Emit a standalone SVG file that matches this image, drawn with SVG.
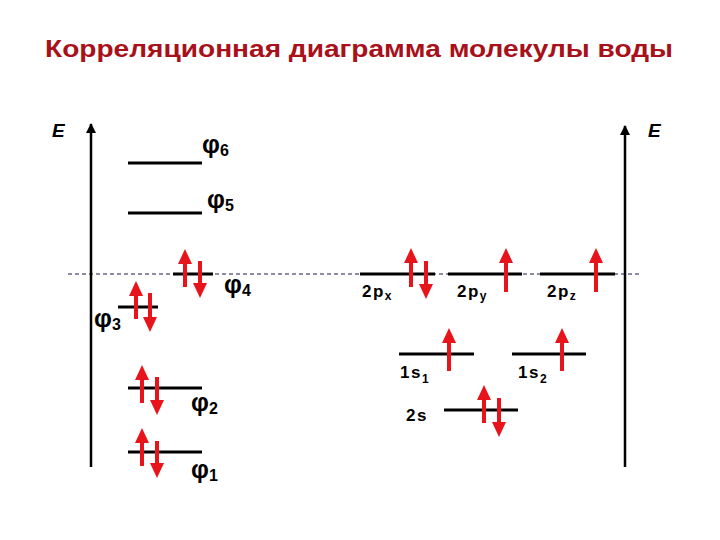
<svg xmlns="http://www.w3.org/2000/svg" width="720" height="540" viewBox="0 0 720 540">
<defs>
<style>
.t{font-family:"Liberation Sans",Arial,sans-serif;}
.title{font-size:24px;font-weight:bold;fill:#A8101A;}
.lvl{stroke:#000;stroke-width:3;fill:none;}
.ax{stroke:#000;stroke-width:2.5;fill:none;}
.dash{stroke:#1a1a50;stroke-width:1.2;stroke-dasharray:4 3;fill:none;}
.ar{fill:#E8141C;}
.phi{font-size:25px;font-weight:bold;fill:#000;}
.lab{font-size:17px;font-weight:bold;fill:#000;letter-spacing:1.5px;}
.sub{font-size:12px;font-weight:bold;}
.psub{font-size:16px;font-weight:bold;}
.E{font-size:19px;font-weight:bold;font-style:italic;fill:#000;}
</style>
<marker id="ah" viewBox="0 0 10 10" refX="9" refY="5" markerWidth="4" markerHeight="4" orient="auto" markerUnits="strokeWidth"><path d="M0,0 L10,5 L0,10 Z" fill="#000"/></marker>
</defs>
<rect width="720" height="540" fill="#fff"/>
<text class="t title" x="45" y="57" textLength="628" lengthAdjust="spacingAndGlyphs">Корреляционная диаграмма молекулы воды</text>

<g id="connectors">
<line class="dash" x1="68" y1="274" x2="642" y2="274"/>
<line class="ax" x1="91" y1="467" x2="91" y2="124" marker-end="url(#ah)"/>
<line class="ax" x1="625" y1="467" x2="625" y2="126" marker-end="url(#ah)"/>
</g>
<g id="axis-labels">
<text class="t E" x="52" y="137">E</text>
<text class="t E" x="648" y="137">E</text>
</g>

<g id="phi6">
<line class="lvl" x1="128" y1="163" x2="202" y2="163"/>
<text class="t phi" x="202" y="153">φ<tspan class="psub" dy="3">6</tspan></text>
</g>
<g id="phi5">
<line class="lvl" x1="128" y1="213" x2="202" y2="213"/>
<text class="t phi" x="207" y="208">φ<tspan class="psub" dy="3">5</tspan></text>
</g>
<g id="phi4">
<line class="lvl" x1="173" y1="274" x2="213" y2="274"/>
<path class="ar" d="M185,249 L192,264 L187,264 L187,287 L183,287 L183,264 L178,264 Z"/>
<path class="ar" d="M200,298 L207,283 L202,283 L202,261 L198,261 L198,283 L193,283 Z"/>
<text class="t phi" x="224" y="293">φ<tspan class="psub" dy="3">4</tspan></text>
</g>
<g id="phi3">
<line class="lvl" x1="118" y1="307" x2="158" y2="307"/>
<path class="ar" d="M136,281 L143,296 L138,296 L138,319 L134,319 L134,296 L129,296 Z"/>
<path class="ar" d="M150,332 L157,317 L152,317 L152,293 L148,293 L148,317 L143,317 Z"/>
<text class="t phi" x="94" y="327">φ<tspan class="psub" dy="3">3</tspan></text>
</g>
<g id="phi2">
<line class="lvl" x1="128" y1="388" x2="202" y2="388"/>
<path class="ar" d="M142,365 L149,380 L144,380 L144,403 L140,403 L140,380 L135,380 Z"/>
<path class="ar" d="M157,415 L164,400 L159,400 L159,377 L155,377 L155,400 L150,400 Z"/>
<text class="t phi" x="191" y="411">φ<tspan class="psub" dy="3">2</tspan></text>
</g>
<g id="phi1">
<line class="lvl" x1="128" y1="452" x2="202" y2="452"/>
<path class="ar" d="M142,428 L149,443 L144,443 L144,466 L140,466 L140,443 L135,443 Z"/>
<path class="ar" d="M157,478 L164,463 L159,463 L159,441 L155,441 L155,463 L150,463 Z"/>
<text class="t phi" x="191" y="478">φ<tspan class="psub" dy="3">1</tspan></text>
</g>

<g id="2px">
<line class="lvl" x1="360" y1="274" x2="435" y2="274"/>
<path class="ar" d="M411,248 L418,263 L413,263 L413,287 L409,287 L409,263 L404,263 Z"/>
<path class="ar" d="M426,299 L433,284 L428,284 L428,261 L424,261 L424,284 L419,284 Z"/>
<text class="t lab" x="362" y="297">2p<tspan class="sub" dy="3">x</tspan></text>
</g>
<g id="2py">
<line class="lvl" x1="448" y1="274" x2="522" y2="274"/>
<path class="ar" d="M506,248 L513,263 L508,263 L508,292 L504,292 L504,263 L499,263 Z"/>
<text class="t lab" x="457" y="297">2p<tspan class="sub" dy="3">y</tspan></text>
</g>
<g id="2pz">
<line class="lvl" x1="540" y1="274" x2="615" y2="274"/>
<path class="ar" d="M596,248 L603,263 L598,263 L598,292 L594,292 L594,263 L589,263 Z"/>
<text class="t lab" x="547" y="297">2p<tspan class="sub" dy="3">z</tspan></text>
</g>
<g id="1s1">
<line class="lvl" x1="399" y1="354" x2="474" y2="354"/>
<path class="ar" d="M449,328 L456,343 L451,343 L451,371 L447,371 L447,343 L442,343 Z"/>
<text class="t lab" x="400" y="378">1s<tspan class="sub" dy="5">1</tspan></text>
</g>
<g id="1s2">
<line class="lvl" x1="512" y1="354" x2="586" y2="354"/>
<path class="ar" d="M562,328 L569,343 L564,343 L564,371 L560,371 L560,343 L555,343 Z"/>
<text class="t lab" x="518" y="378">1s<tspan class="sub" dy="5">2</tspan></text>
</g>
<g id="2s">
<line class="lvl" x1="444" y1="410" x2="518" y2="410"/>
<path class="ar" d="M484,385 L491,400 L486,400 L486,423 L482,423 L482,400 L477,400 Z"/>
<path class="ar" d="M499,437 L506,422 L501,422 L501,398 L497,398 L497,422 L492,422 Z"/>
<text class="t lab" x="406" y="421">2s</text>
</g>
</svg>
